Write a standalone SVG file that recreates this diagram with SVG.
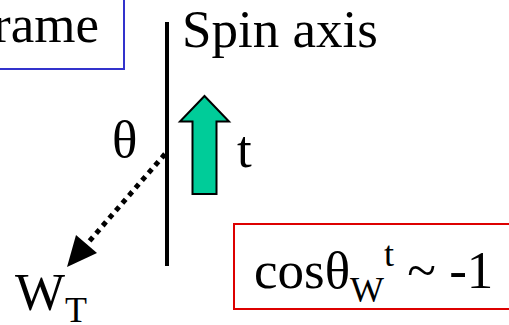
<svg xmlns="http://www.w3.org/2000/svg" width="509" height="325" viewBox="0 0 509 325">
<style>
.t{font-family:"Liberation Serif","Times New Roman",serif;font-size:53px;fill:#000}
.s{font-size:36px}
</style>
<rect width="509" height="325" fill="#fff"/>
<g id="frame-box">
<rect x="-10" y="-10" width="134" height="79" fill="none" stroke="#3333CC" stroke-width="2"/>
<text class="t" x="99" y="42" text-anchor="end">Frame</text>
</g>
<g id="spin-axis">
<line x1="167" y1="22" x2="167" y2="266" stroke="#000" stroke-width="4"/>
<text class="t" x="182" y="47" font-size="52">Spin axis</text>
</g>
<g id="top">
<polygon points="204.5,96 229,121.5 216.5,121.5 216.5,194 192.5,194 192.5,121.5 180,121.5" fill="#00CC99" stroke="#000" stroke-width="2"/>
<text class="t" x="237" y="167">t</text>
</g>
<g id="theta">
<text class="t" x="112" y="157">θ</text>
</g>
<g id="W">
<text class="t" x="15" y="310">W<tspan class="s" dy="12">T</tspan></text>
</g>
<g id="connectors">
<line x1="165" y1="154" x2="86" y2="245" stroke="#000" stroke-width="5" stroke-dasharray="5 5"/>
<polygon points="67,267 97,253 76,235" fill="#000"/>
</g>
<g id="cos-box">
<rect x="234" y="224" width="290" height="85" fill="none" stroke="#DD0000" stroke-width="2"/>
<text class="t" x="254" y="288">cosθ<tspan class="s" dy="14">W</tspan><tspan class="s" dy="-36">t</tspan><tspan dy="22"> ~ -1</tspan></text>
</g>
</svg>
